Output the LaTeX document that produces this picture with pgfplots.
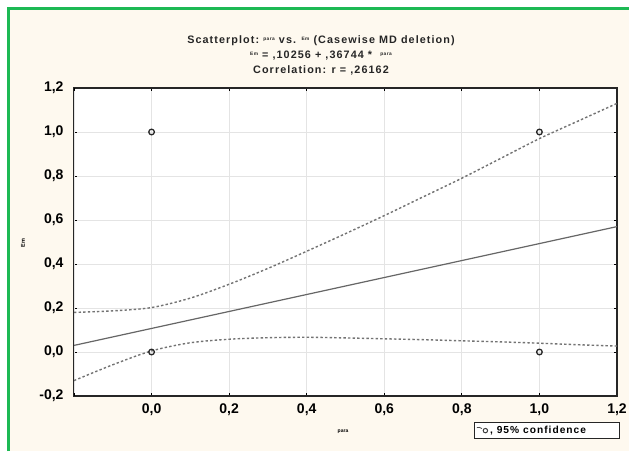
\documentclass[border=0pt]{standalone}
\usepackage{pgfplots}
\pgfplotsset{compat=1.18}
\usepackage{fontspec}
\setmainfont{Liberation Sans}
\newfontfamily\widefont[LetterSpace=10]{Liberation Sans}
\definecolor{cream}{HTML}{FEF9EF}
\definecolor{bordergreen}{HTML}{1DB954}
\definecolor{gridgray}{HTML}{E4E4E4}
\begin{document}
\begin{tikzpicture}[x=1pt,y=1pt]
\useasboundingbox (0pt,0pt) rectangle (629pt,451pt);
\fill[white] (0pt,0pt) rectangle (629pt,451pt);
\fill[cream] (9pt,0pt) rectangle (629pt,442pt);
\draw[gray!40, line width=0.6pt] (8pt,443.8pt) -- (629pt,443.8pt);
\draw[bordergreen, line width=2.6pt] (7.5pt,442.3pt) -- (629pt,442.3pt);
\draw[bordergreen, line width=2.6pt] (8.3pt,0pt) -- (8.3pt,443.5pt);
% title
\node[font=\widefont\bfseries\fontsize{10.8}{12}\selectfont, black!85] at (321pt,410.5pt) {Scatterplot:\ \raisebox{2.5pt}{\fontsize{4.8}{5}\selectfont para}\ vs. \raisebox{2.5pt}{\fontsize{4.8}{5}\selectfont Em}\ (Casewise MD deletion)};
\node[font=\widefont\bfseries\fontsize{10.8}{12}\selectfont, black!85] at (321pt,395.5pt) {\raisebox{2.5pt}{\fontsize{4.8}{5}\selectfont Em} = ,10256 + ,36744 * \ \raisebox{2.5pt}{\fontsize{4.8}{5}\selectfont para}};
\node[font=\widefont\bfseries\fontsize{10.8}{12}\selectfont, black!85] at (321pt,380.5pt) {Correlation: r = ,26162};
% axis labels
\node[font=\bfseries\fontsize{5.5}{6}\selectfont, rotate=90] at (23pt,208pt) {Em};
\node[font=\bfseries\fontsize{5}{6}\selectfont] at (343pt,19pt) {para};
\begin{axis}[
  at={(74pt,55pt)}, anchor=south west,
  scale only axis, width=543pt, height=308pt,
  xmin=-0.2, xmax=1.2, ymin=-0.2, ymax=1.2,
  xtick={0,0.2,0.4,0.6,0.8,1.0,1.2},
  extra x ticks={-0.2}, extra x tick labels={},
  ytick={-0.2,0,0.2,0.4,0.6,0.8,1.0,1.2},
  grid=major,
  major grid style={gridgray, line width=0.9pt},
  extra x tick style={grid=major},
  axis background/.style={fill=white},
  axis line style={black!85, line width=1.6pt},
  tick align=inside, major tick length=3pt,
  tick style={black, line width=1pt},
  xtick pos=both, ytick pos=both,
  /pgf/number format/.cd, fixed, fixed zerofill, precision=1, use comma, assume math mode=true,
  /pgfplots/.cd,
  ticklabel style={font=\bfseries\fontsize{14}{16}\selectfont},
  xticklabel style={yshift=-4pt},
  yticklabel style={xshift=-7pt},
  legend style={at={(0.737,-0.084)}, anchor=north west, draw=black!85, line width=1pt,
    font=\widefont\bfseries\fontsize{10.2}{12}\selectfont, inner sep=1.8pt, fill=white,
    legend cell align=left},
  legend image code/.code={\draw[black!70, line width=0.8pt] (0pt,3pt) to[bend left=30] (5pt,2pt);
     \draw[black!75, line width=1pt] (8.5pt,0pt) circle (2.2pt);},
]
\addplot[black!55, smooth, dash pattern=on 2.4pt off 2.2pt, line width=1.4pt, forget plot] coordinates {
(-0.2,0.18) (-0.1,0.187) (0,0.202) (0.1,0.245) (0.2,0.308) (0.3,0.38) (0.4,0.458) (0.5,0.538)
(0.6,0.62) (0.7,0.705) (0.8,0.79) (0.9,0.88) (1.0,0.97) (1.1,1.05) (1.2,1.13)};
\addplot[black!55, smooth, dash pattern=on 2.4pt off 2.2pt, line width=1.4pt, forget plot] coordinates {
(-0.2,-0.13) (-0.1,-0.058) (0,0.005) (0.1,0.042) (0.2,0.058) (0.3,0.065) (0.4,0.067) (0.5,0.064)
(0.6,0.06) (0.7,0.056) (0.8,0.051) (0.9,0.046) (1.0,0.04) (1.1,0.033) (1.2,0.027)};
\addplot[black!60, line width=1.2pt, forget plot] coordinates {(-0.2,0.03) (1.2,0.57)};
\addplot[only marks, mark=o, mark size=2.8pt, mark options={black!85, line width=1.3pt}] coordinates {
(0,0) (0,1) (1,1) (1,0)};
\addlegendentry{\makebox[126pt][l]{, 95\% confidence}}
\end{axis}
\end{tikzpicture}
\end{document}
